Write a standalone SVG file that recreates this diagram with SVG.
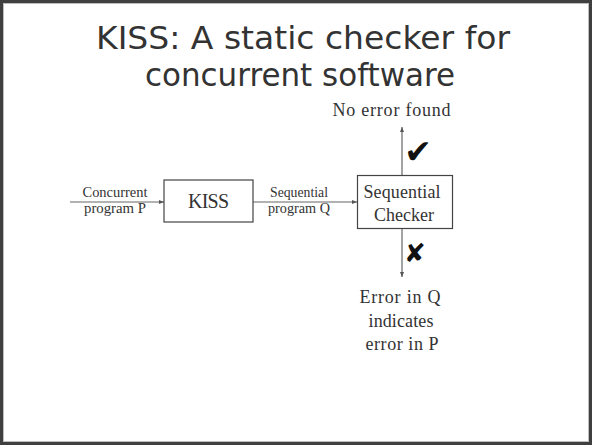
<svg xmlns="http://www.w3.org/2000/svg" width="592" height="445" viewBox="0 0 592 445">
  <defs>
    <marker id="ah" viewBox="0 0 10 10" refX="10" refY="5" markerWidth="5" markerHeight="5" orient="auto" markerUnits="userSpaceOnUse">
      <path d="M0,1 L10,5 L0,9 z" fill="#555"/>
    </marker>
  </defs>
  <style>
    .title { font-family: "DejaVu Sans", "Noto Sans", sans-serif; font-size: 32px; fill: #333; }
    .serif { font-family: "Liberation Serif", "DejaVu Serif", serif; fill: #333; }
    .lbl { font-size: 14px; }
    .big { font-size: 18px; }
    .box { fill: #fff; stroke: #444; stroke-width: 1.2; }
    .conn { stroke: #666; stroke-width: 1.2; fill: none; marker-end: url(#ah); }
    .sym { font-family: "DejaVu Sans", "Noto Sans", sans-serif; fill: #111; }
  </style>
  <rect x="0" y="0" width="592" height="445" fill="#fff"/>
  <rect x="1.5" y="1.5" width="589" height="442" fill="none" stroke="#3f3f3f" stroke-width="3"/>
  <rect x="3.5" y="3.5" width="585" height="438" fill="none" stroke="#bdbdbd" stroke-width="1"/>

  <g id="title">
    <text class="title" x="303" y="49" text-anchor="middle" textLength="414" lengthAdjust="spacingAndGlyphs">KISS: A static checker for</text>
    <text class="title" x="300" y="86" text-anchor="middle" textLength="310" lengthAdjust="spacingAndGlyphs">concurrent software</text>
  </g>

  <g id="connectors">
    <line class="conn" x1="70" y1="202" x2="164" y2="202"/>
    <line class="conn" x1="253" y1="202" x2="357" y2="202"/>
    <line class="conn" x1="402" y1="176" x2="402" y2="127"/>
    <line class="conn" x1="402" y1="229" x2="402" y2="277"/>
  </g>

  <g id="label-concurrent">
    <text class="serif lbl" x="115" y="197" text-anchor="middle" textLength="65" lengthAdjust="spacingAndGlyphs">Concurrent</text>
    <text class="serif lbl" x="115" y="213" text-anchor="middle" textLength="62" lengthAdjust="spacingAndGlyphs">program P</text>
  </g>
  <g id="label-sequential">
    <text class="serif lbl" x="299" y="197" text-anchor="middle" textLength="58" lengthAdjust="spacingAndGlyphs">Sequential</text>
    <text class="serif lbl" x="299" y="213" text-anchor="middle" textLength="62" lengthAdjust="spacingAndGlyphs">program Q</text>
  </g>

  <g id="node-kiss">
    <rect class="box" x="164" y="180" width="89" height="42"/>
    <text class="serif" x="208.5" y="208" font-size="20" text-anchor="middle" textLength="41">KISS</text>
  </g>

  <g id="node-checker">
    <rect class="box" x="357.5" y="175.5" width="95" height="53"/>
    <text class="serif big" x="402" y="198" text-anchor="middle" textLength="77">Sequential</text>
    <text class="serif big" x="404" y="221" text-anchor="middle" textLength="60">Checker</text>
  </g>

  <g id="node-noerror">
    <text class="serif big" x="391.5" y="116" text-anchor="middle" textLength="118">No error found</text>
    <text class="sym" x="418" y="163" font-size="33" text-anchor="middle">✔</text>
  </g>

  <g id="node-error">
    <text class="sym" x="415" y="262" font-size="26" text-anchor="middle">✘</text>
    <text class="serif big" x="400" y="303" text-anchor="middle" textLength="81">Error in Q</text>
    <text class="serif big" x="401" y="327" text-anchor="middle" textLength="65">indicates</text>
    <text class="serif big" x="402" y="350" text-anchor="middle" textLength="73">error in P</text>
  </g>
</svg>
